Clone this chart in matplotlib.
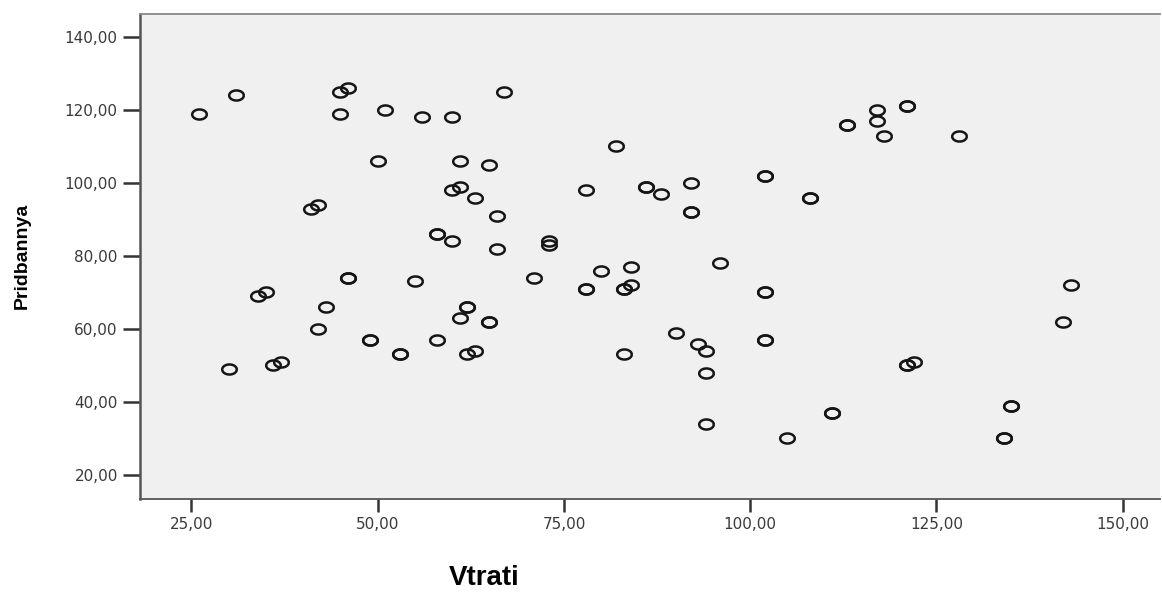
import numpy as np
import matplotlib
matplotlib.use("Agg")
import matplotlib.pyplot as plt
from matplotlib.path import Path

# Dados (pontos repetidos aparecem mais escuros)
vtrati = [26, 31, 45, 46, 45, 51, 50, 41, 42, 46, 46, 34, 35, 43, 42, 49, 49,
          30, 36, 37, 53, 53, 56, 60, 67, 61, 65, 82, 102, 102, 60, 61, 63,
          78, 86, 86, 88, 92, 92, 92, 66, 58, 58, 60, 66, 73, 73, 55, 71, 80,
          84, 96, 78, 78, 83, 83, 84, 102, 102, 117, 121, 121, 113, 113, 117,
          118, 128, 108, 108, 143, 62, 62, 61, 65, 65, 58, 62, 63, 83, 90, 93,
          94, 94, 94, 102, 102, 142, 121, 121, 122, 111, 111, 105, 135, 135,
          134, 134]
pridbannya = [119, 124, 125, 126, 119, 120, 106, 93, 94, 74, 74, 69, 70, 66,
              60, 57, 57, 49, 50, 51, 53, 53, 118, 118, 125, 106, 105, 110,
              102, 102, 98, 99, 96, 98, 99, 99, 97, 100, 92, 92, 91, 86, 86,
              84, 82, 84, 83, 73, 74, 76, 77, 78, 71, 71, 71, 71, 72, 70, 70,
              120, 121, 121, 116, 116, 117, 113, 113, 96, 96, 72, 66, 66, 63,
              62, 62, 57, 53, 54, 53, 59, 56, 54, 48, 34, 57, 57, 62, 50, 50,
              51, 37, 37, 30, 39, 39, 30, 30]

x_ticks = [25, 50, 75, 100, 125, 150]
y_ticks = [20, 40, 60, 80, 100, 120, 140]

# marcador elíptico (a imagem original está esticada na horizontal)
t = np.linspace(0, 2 * np.pi, 60)
elipse = Path(np.column_stack([1.45 * np.cos(t), np.sin(t)]))

fig = plt.figure(figsize=(11.62, 5.94), dpi=100)
ax = fig.add_axes([140 / 1162, 95 / 594, 1020 / 1162, 485 / 594])
ax.set_facecolor('#f0f0f0')

ax.plot(vtrati, pridbannya, linestyle='none', marker=elipse, markersize=10.5,
        markerfacecolor='none', markeredgecolor='#151515', markeredgewidth=1.8)

ax.set_xlim(18.1, 155)
ax.set_ylim(13.4, 146.3)
ax.set_xticks(x_ticks)
ax.set_yticks(y_ticks)
ax.set_xticklabels([f"{v},00" for v in x_ticks])
ax.set_yticklabels([f"{v},00" for v in y_ticks])
ax.tick_params(axis='both', direction='out', colors='#333333', width=1.8)
ax.tick_params(axis='both', labelcolor='#3a3a3a', labelsize=11)
ax.tick_params(axis='y', length=12, pad=4)
ax.tick_params(axis='x', length=9, pad=4)

ax.spines['left'].set_color('#555555')
ax.spines['bottom'].set_color('#555555')
ax.spines['left'].set_linewidth(1.8)
ax.spines['bottom'].set_linewidth(1.3)
ax.spines['top'].set_color('#888888')
ax.spines['top'].set_linewidth(1.3)
ax.spines['right'].set_visible(False)

fonte = ['Liberation Sans Narrow', 'Liberation Sans', 'DejaVu Sans']
fig.text(484 / 1162, 1 - 578 / 594, 'Vtrati', ha='center', va='center',
         fontsize=20, fontweight='bold', family=fonte)
fig.text(22 / 1162, 1 - 256 / 594, 'Pridbannya', ha='center', va='center',
         rotation=90, fontsize=14, fontweight='bold', family=fonte)

fig.savefig('out.png', dpi=100)
